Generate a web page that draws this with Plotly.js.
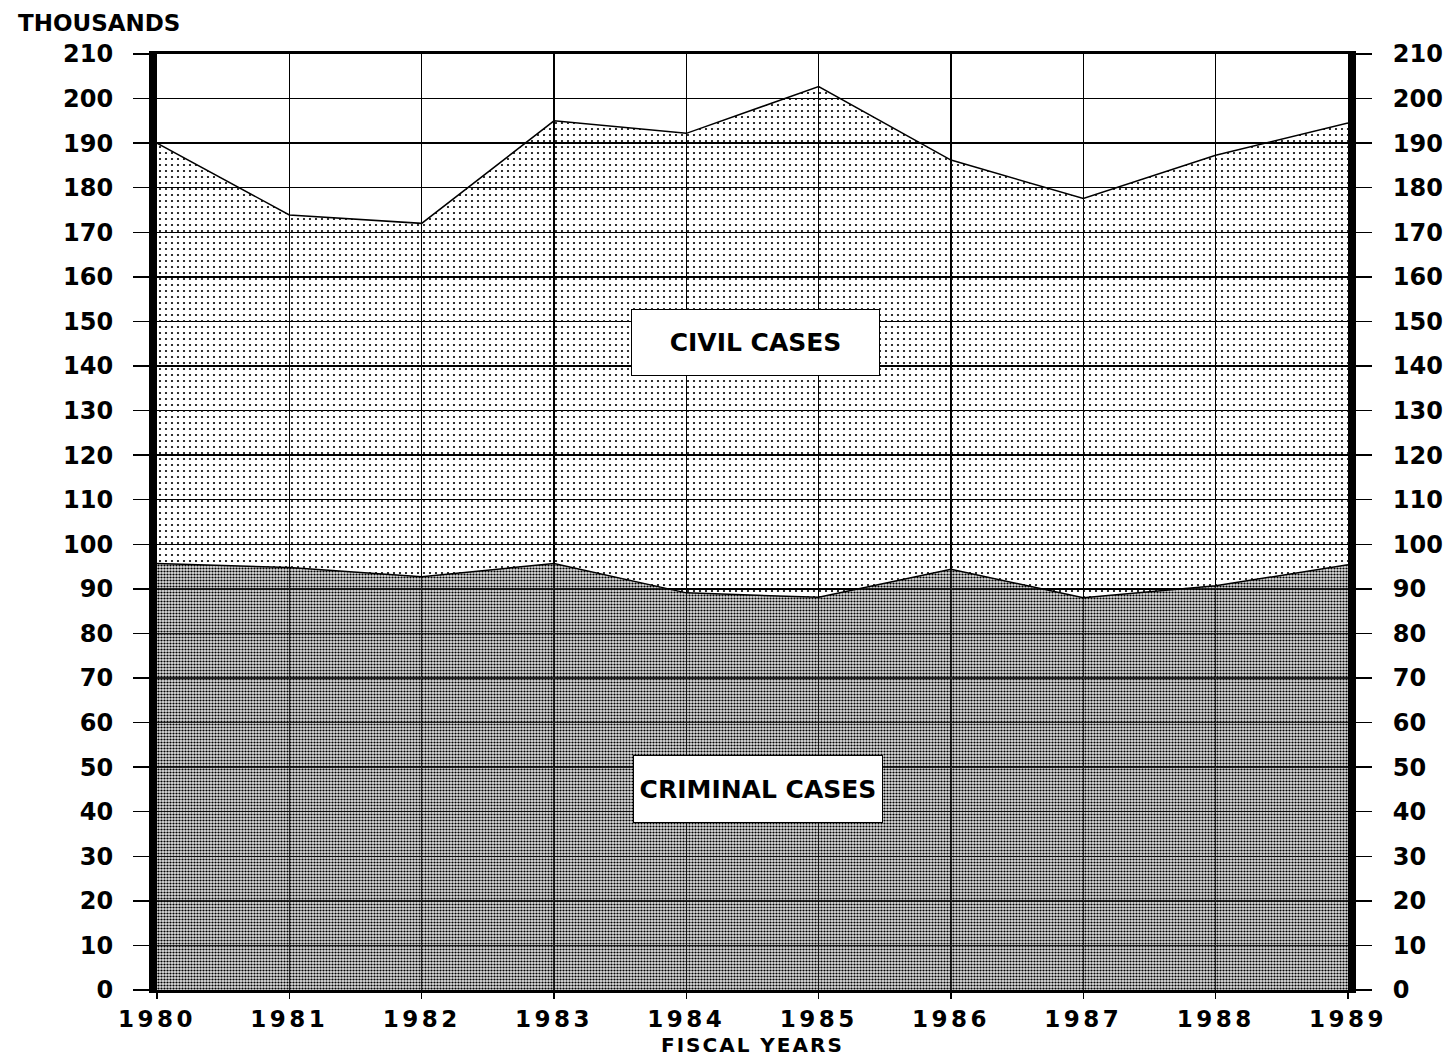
<!DOCTYPE html>
<html><head><meta charset="utf-8">
<script src="https://cdn.plot.ly/plotly-3.0.1.min.js"></script>
<style>
html,body{margin:0;padding:0;background:#fff}
#chart{width:1450px;height:1058px}
.xtick text{letter-spacing:3.5px}
.annotation[data-index="1"] text{letter-spacing:2px}
</style></head>
<body><div id="chart"></div>
<script>
const years = [1980, 1981, 1982, 1983, 1984, 1985, 1986, 1987, 1988, 1989];
const yearLabels = ["1980", "1981", "1982", "1983", "1984", "1985", "1986", "1987", "1988", "1989"];
const criminalCases = [95.7, 94.8, 92.7, 95.7, 89.1, 88.1, 94.4, 88.0, 90.7, 95.4];
const totalCases = [190.0, 173.9, 172.0, 195.0, 192.2, 202.7, 186.2, 177.6, 187.3, 194.5];
const yTicks = [0, 10, 20, 30, 40, 50, 60, 70, 80, 90, 100, 110, 120, 130, 140, 150, 160, 170, 180, 190, 200, 210];

const FONT = "DejaVu Sans";
const tickFont = {family: FONT, size: 24, weight: "bold", color: "#000"};

const traces = [
  {
    x: years, y: criminalCases, type: "scatter", mode: "lines",
    line: {color: "#000", width: 1.5},
    fill: "tozeroy", fillcolor: "rgba(150,150,150,0.3)",
    fillpattern: {shape: ".", fgcolor: "#000", bgcolor: "rgba(150,150,150,0.3)", size: 3, solidity: 0.42},
    hoverinfo: "skip", showlegend: false
  },
  {
    x: years, y: totalCases, type: "scatter", mode: "lines",
    line: {color: "#000", width: 1.5},
    fill: "tonexty", fillcolor: "rgba(0,0,0,0)",
    fillpattern: {shape: ".", fgcolor: "#000", bgcolor: "rgba(0,0,0,0)", size: 6, solidity: 0.11},
    hoverinfo: "skip", showlegend: false
  },
  {
    x: years, y: totalCases, yaxis: "y2", type: "scatter", mode: "lines",
    line: {color: "rgba(0,0,0,0)", width: 0},
    hoverinfo: "skip", showlegend: false
  }
];

const layout = {
  width: 1450, height: 1058,
  margin: {l: 157, r: 102, t: 54, b: 68},
  paper_bgcolor: "#fff", plot_bgcolor: "#fff",
  showlegend: false,
  xaxis: {
    range: [1980, 1989], tickvals: years, ticktext: yearLabels,
    showgrid: true, gridcolor: "#000", gridwidth: 1.5,
    showline: true, linecolor: "#000", linewidth: 3, mirror: true,
    ticks: "outside", ticklen: 6, tickwidth: 1.5, tickcolor: "#000",
    tickfont: {family: FONT, size: 23, weight: "bold", color: "#000"},
    ticklabelstandoff: 0, zeroline: false
  },
  yaxis: {
    range: [0, 210], tickvals: yTicks,
    showgrid: true, gridcolor: "#000", gridwidth: 1.5,
    showline: true, linecolor: "#000", linewidth: 8,
    ticks: "outside", ticklen: 16, tickwidth: 1.5, tickcolor: "#000",
    tickfont: tickFont, ticklabelstandoff: 15, zeroline: false
  },
  yaxis2: {
    overlaying: "y", side: "right", anchor: "x", range: [0, 210], tickvals: yTicks,
    showgrid: false, showline: true, linecolor: "#000", linewidth: 8,
    ticks: "outside", ticklen: 16, tickwidth: 1.5, tickcolor: "#000",
    tickfont: tickFont, ticklabelstandoff: 16, zeroline: false
  },
  annotations: [
    {text: "THOUSANDS", xref: "paper", yref: "paper", x: -0.1184, y: 1.033,
     xanchor: "left", yanchor: "middle", showarrow: false,
     font: {family: FONT, size: 23, weight: "bold", color: "#000"}},
    {text: "FISCAL YEARS", xref: "paper", yref: "paper", x: 0.5, y: -0.0727,
     xanchor: "center", yanchor: "bottom", showarrow: false, borderpad: 0,
     font: {family: FONT, size: 20, weight: "bold", color: "#000"}},
    {text: "CIVIL CASES", xref: "x", yref: "y", x: 1984.52, y: 145.2,
     showarrow: false, bgcolor: "#fff", bordercolor: "#000", borderwidth: 1, borderpad: 0,
     width: 247, height: 65,
     font: {family: FONT, size: 25, weight: "bold", color: "#000"}},
    {text: "CRIMINAL CASES", xref: "x", yref: "y", x: 1984.544, y: 45.05,
     showarrow: false, bgcolor: "#fff", bordercolor: "#000", borderwidth: 1, borderpad: 0,
     width: 248, height: 66,
     font: {family: FONT, size: 25, weight: "bold", color: "#000"}}
  ]
};

Plotly.newPlot("chart", traces, layout, {displayModeBar: false, staticPlot: true});
</script>
</body></html>
